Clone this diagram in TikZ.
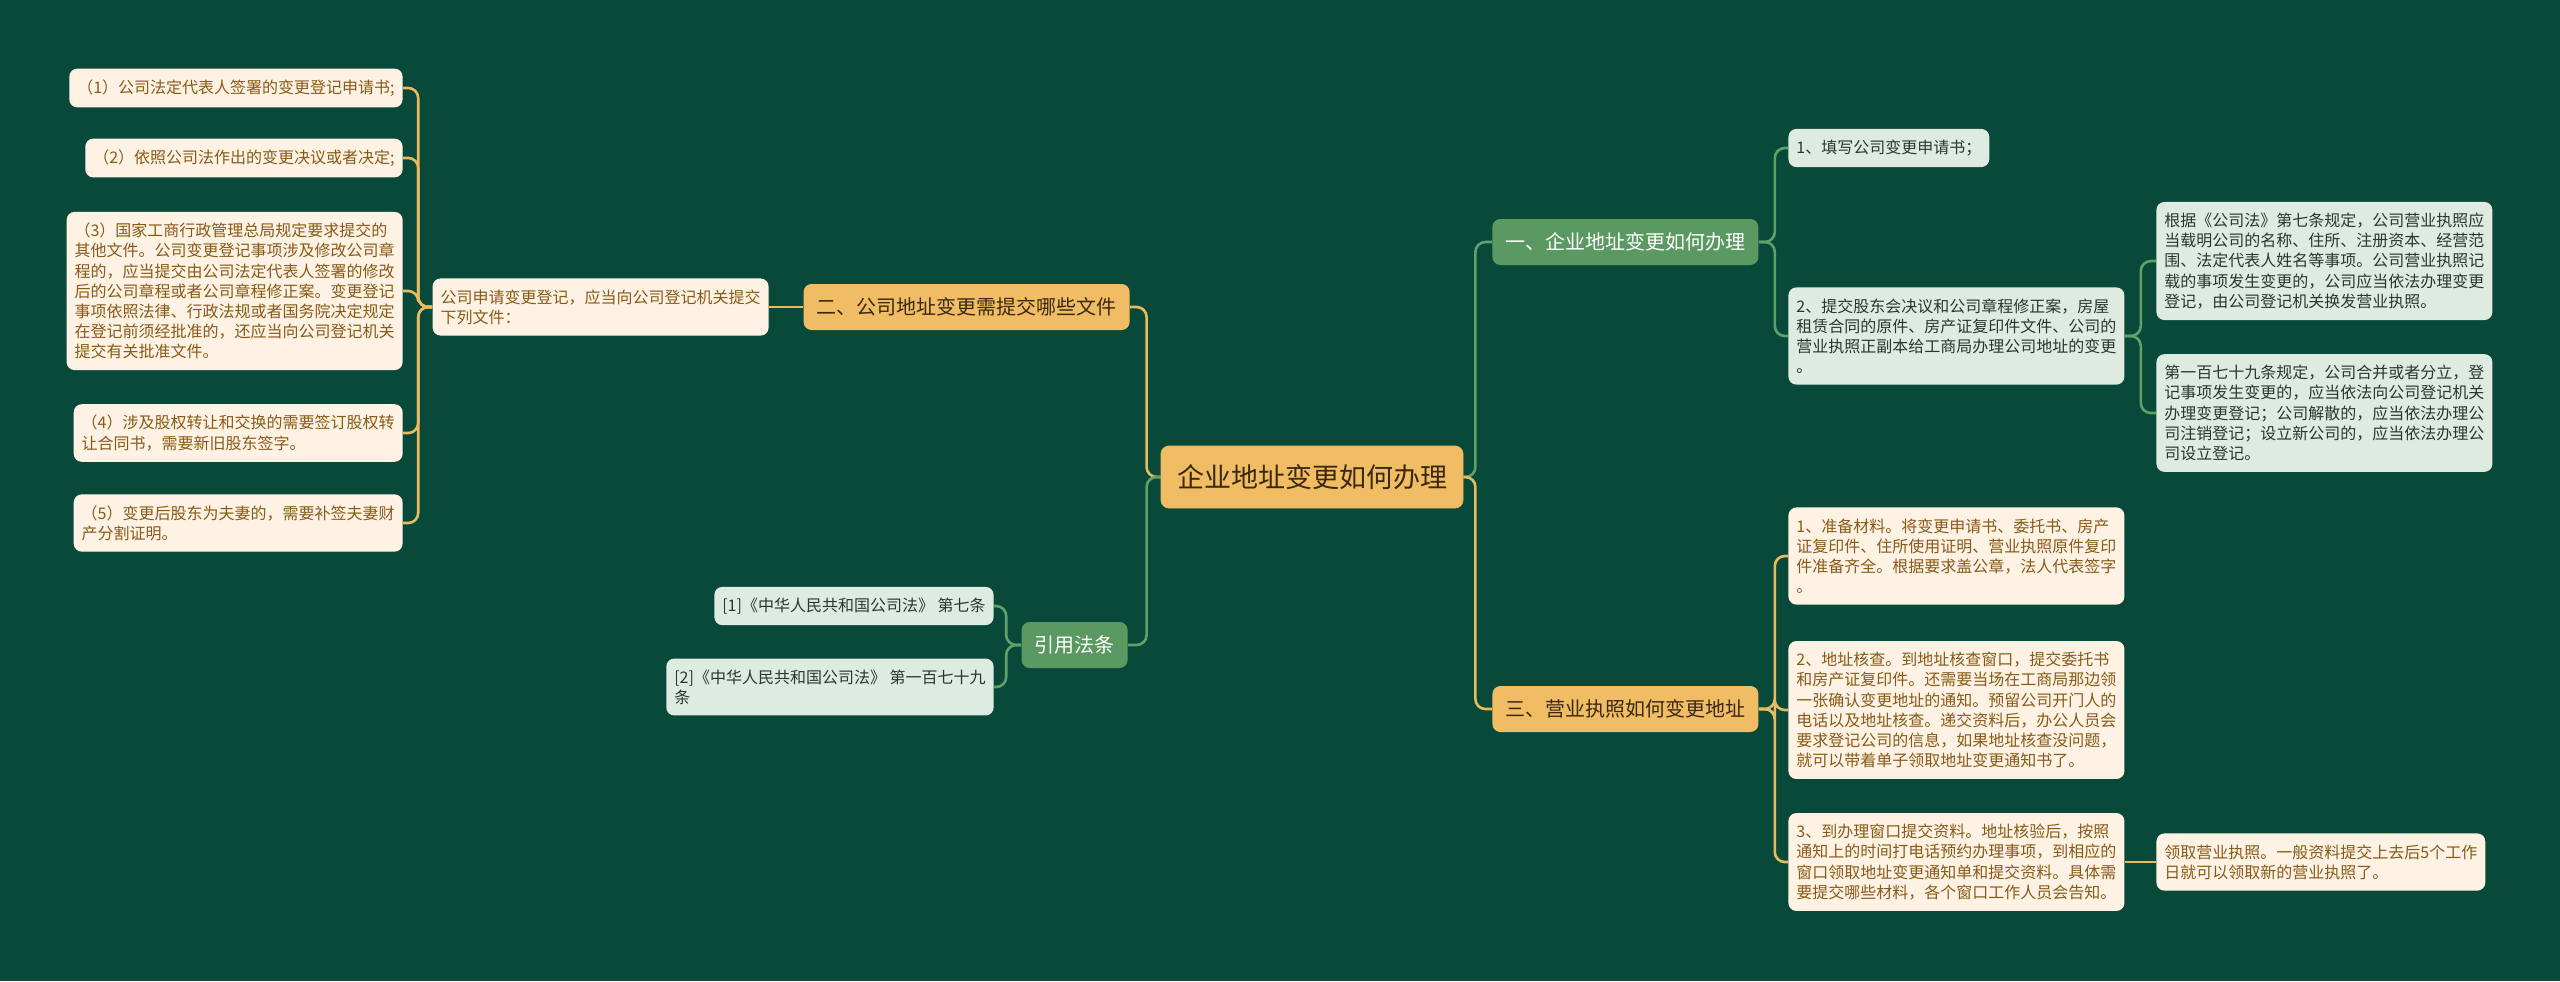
\documentclass[tikz,border=0pt]{standalone}
\usepackage{fontspec}
\setmainfont{Noto Sans CJK SC}
\definecolor{bg}{RGB}{8,73,58}
\definecolor{goldfill}{RGB}{240,189,100}
\definecolor{goldtext}{RGB}{58,40,16}
\definecolor{goldline}{RGB}{232,188,94}
\definecolor{creamfill}{RGB}{253,242,227}
\definecolor{creamtext}{RGB}{136,90,24}
\definecolor{sagebranch}{RGB}{91,153,98}
\definecolor{sagefill}{RGB}{222,235,225}
\definecolor{sagetext}{RGB}{42,54,48}
\definecolor{sageline}{RGB}{96,160,106}
\begin{document}
\begin{tikzpicture}[x=0.5pt,y=-0.5pt,
  leaf/.style={rounded corners=4pt,inner xsep=4pt,inner ysep=5.5pt,align=left,
    font=\fontsize{8}{10.1}\selectfont},
  tanleaf/.style={leaf,fill=creamfill,text=creamtext},
  sageleaf/.style={leaf,fill=sagefill,text=sagetext},
  branch/.style={rounded corners=4pt,inner xsep=6.5pt,minimum height=23pt,
    font=\fontsize{10}{12}\selectfont},
  tanbranch/.style={branch,fill=goldfill,text=goldtext},
  sagebranch/.style={branch,fill=sagebranch,text=white},
  tanwire/.style={draw=goldline,line width=1.3pt,rounded corners=5pt},
  sagewire/.style={draw=sageline,line width=1.3pt,rounded corners=5pt}]
\useasboundingbox (0,0) rectangle (2560,981);
\fill[bg] (0,0) rectangle (2560,981);

\node[fill=goldfill,draw=goldline,rounded corners=4pt,inner xsep=8pt,minimum height=31pt,
  text=goldtext,font=\fontsize{13.5}{16}\selectfont] (root) at (1312,477) {企业地址变更如何办理};

% left half
\node[tanbranch,anchor=east] (b2) at (1130,307) {二、公司地址变更需提交哪些文件};
\node[tanleaf,anchor=east] (mid) at (769,307) {公司申请变更登记，应当向公司登记机关提交\\下列文件：};
\node[tanleaf,anchor=east] (l1) at (403,88) {（1）公司法定代表人签署的变更登记申请书;};
\node[tanleaf,anchor=east] (l2) at (403,158) {（2）依照公司法作出的变更决议或者决定;};
\node[tanleaf,anchor=east] (l3) at (403,291) {（3）国家工商行政管理总局规定要求提交的\\其他文件。公司变更登记事项涉及修改公司章\\程的，应当提交由公司法定代表人签署的修改\\后的公司章程或者公司章程修正案。变更登记\\事项依照法律、行政法规或者国务院决定规定\\在登记前须经批准的，还应当向公司登记机关\\提交有关批准文件。};
\node[tanleaf,anchor=east] (l4) at (403,433) {（4）涉及股权转让和交换的需要签订股权转\\让合同书，需要新旧股东签字。};
\node[tanleaf,anchor=east] (l5) at (403,523) {（5）变更后股东为夫妻的，需要补签夫妻财\\产分割证明。};

\node[sagebranch,anchor=east] (cite) at (1128,645) {引用法条};
\node[sageleaf,anchor=east] (c1) at (994,606) {[1]《中华人民共和国公司法》 第七条};
\node[sageleaf,anchor=east] (c2) at (994,687) {[2]《中华人民共和国公司法》 第一百七十九\\条};

% right half
\node[sagebranch,anchor=west] (b1) at (1492,242) {一、企业地址变更如何办理};
\node[sageleaf,anchor=west] (r1) at (1788,148) {1、填写公司变更申请书；};
\node[sageleaf,anchor=west] (r2) at (1788,336) {2、提交股东会决议和公司章程修正案，房屋\\租赁合同的原件、房产证复印件文件、公司的\\营业执照正副本给工商局办理公司地址的变更\\。};
\node[sageleaf,anchor=west] (r2a) at (2156,261) {根据《公司法》第七条规定，公司营业执照应\\当载明公司的名称、住所、注册资本、经营范\\围、法定代表人姓名等事项。公司营业执照记\\载的事项发生变更的，公司应当依法办理变更\\登记，由公司登记机关换发营业执照。};
\node[sageleaf,anchor=west] (r2b) at (2156,413) {第一百七十九条规定，公司合并或者分立，登\\记事项发生变更的，应当依法向公司登记机关\\办理变更登记；公司解散的，应当依法办理公\\司注销登记；设立新公司的，应当依法办理公\\司设立登记。};

\node[tanbranch,anchor=west] (b3) at (1492,709) {三、营业执照如何变更地址};
\node[tanleaf,anchor=west] (r3a) at (1788,556) {1、准备材料。将变更申请书、委托书、房产\\证复印件、住所使用证明、营业执照原件复印\\件准备齐全。根据要求盖公章，法人代表签字\\。};
\node[tanleaf,anchor=west] (r3b) at (1788,710) {2、地址核查。到地址核查窗口，提交委托书\\和房产证复印件。还需要当场在工商局那边领\\一张确认变更地址的通知。预留公司开门人的\\电话以及地址核查。递交资料后，办公人员会\\要求登记公司的信息，如果地址核查没问题，\\就可以带着单子领取地址变更通知书了。};
\node[tanleaf,anchor=west] (r3c) at (1788,862) {3、到办理窗口提交资料。地址核验后，按照\\通知上的时间打电话预约办理事项，到相应的\\窗口领取地址变更通知单和提交资料。具体需\\要提交哪些材料，各个窗口工作人员会告知。};
\node[tanleaf,anchor=west] (r3d) at (2156,862) {领取营业执照。一般资料提交上去后5个工作\\日就可以领取新的营业执照了。};

% wires
\draw[sagewire] (root.east) -- ++(12,0) |- (b1.west);
\draw[tanwire] (root.east) -- ++(12,0) |- (b3.west);
\draw[tanwire] (root.west) -- ++(-14,0) |- (b2.east);
\draw[sagewire] (root.west) -- ++(-14,0) |- (cite.east);
\draw[tanwire] (b2.west) -- (mid.east);
\foreach \kid in {l1,l2,l3,l4,l5}
  \draw[tanwire] (mid.west) -- ++(-14,0) |- (\kid.east);
\foreach \kid in {c1,c2}
  \draw[sagewire] (cite.west) -- ++(-15,0) |- (\kid.east);
\foreach \kid in {r1,r2}
  \draw[sagewire] (b1.east) -- ++(16,0) |- (\kid.west);
\foreach \kid in {r2a,r2b}
  \draw[sagewire] (r2.east) -- ++(16,0) |- (\kid.west);
\foreach \kid in {r3a,r3b,r3c}
  \draw[tanwire] (b3.east) -- ++(16,0) |- (\kid.west);
\draw[tanwire] (r3c.east) -- (r3d.west);
\end{tikzpicture}
\end{document}
